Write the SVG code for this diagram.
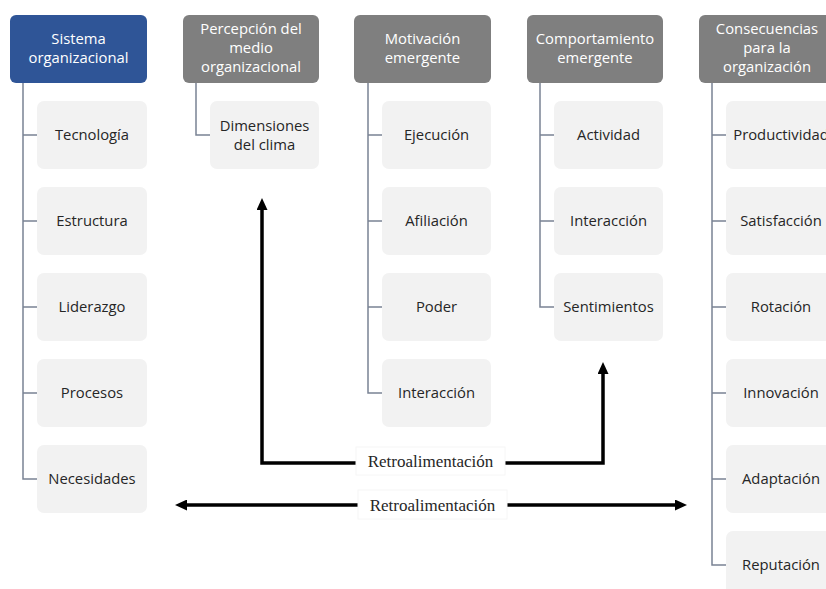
<svg xmlns="http://www.w3.org/2000/svg" width="826" height="589" viewBox="0 0 826 589">
<defs>
<style>
.hdr{fill:#7f7f7f}
.hdr.blue{fill:#2f5597}
.child{fill:#f2f2f2}
.ht{font-family:"Open Sans","Liberation Sans",sans-serif;font-size:14.8px;fill:#ffffff;text-anchor:middle}
.ct{font-family:"Open Sans","Liberation Sans",sans-serif;font-size:14.8px;fill:#262626;text-anchor:middle}
.tree{fill:none;stroke:#7a8394;stroke-width:1.5}
.fb{fill:none;stroke:#000;stroke-width:3.5;marker-start:url(#arr);marker-end:url(#arr)}
.lbl{fill:#fff;stroke:#f6f6f6;stroke-width:1}
.lt{font-family:"Liberation Serif","Times New Roman",serif;font-size:17px;fill:#262626;text-anchor:middle}
</style>
<marker id="arr" viewBox="0 0 12 11" refX="2" refY="5.5" markerWidth="12" markerHeight="11" markerUnits="userSpaceOnUse" orient="auto-start-reverse">
<path d="M0,0 L12,5.5 L0,11 z" fill="#000"/>
</marker>
</defs>
<rect width="826" height="589" fill="#fff"/>

<g id="connectors">
<path class="tree" d="M23,83 V479 H37 M23,135 H37 M23,221 H37 M23,307 H37 M23,393 H37"/>
<path class="tree" d="M196,83 V135 H210"/>
<path class="tree" d="M368,83 V393 H382 M368,135 H382 M368,221 H382 M368,307 H382"/>
<path class="tree" d="M540,83 V307 H554 M540,135 H554 M540,221 H554"/>
<path class="tree" d="M712,83 V565 H726 M712,135 H726 M712,221 H726 M712,307 H726 M712,393 H726 M712,479 H726"/>
<path class="fb" d="M262,208 V463 H603 V372"/>
<path class="fb" d="M185,505 H677"/>
</g>

<g id="h1"><rect class="hdr blue" x="10" y="15" width="137" height="68" rx="6"/><text class="ht" x="78.5" y="44">Sistema</text><text class="ht" x="78.5" y="63">organizacional</text></g>
<g id="h2"><rect class="hdr" x="183" y="15" width="136" height="68" rx="6"/><text class="ht" x="251" y="34">Percepción del</text><text class="ht" x="251" y="53">medio</text><text class="ht" x="251" y="72">organizacional</text></g>
<g id="h3"><rect class="hdr" x="354" y="15" width="137" height="68" rx="6"/><text class="ht" x="422.5" y="44">Motivación</text><text class="ht" x="422.5" y="63">emergente</text></g>
<g id="h4"><rect class="hdr" x="527" y="15" width="136" height="68" rx="6"/><text class="ht" x="595" y="44">Comportamiento</text><text class="ht" x="595" y="63">emergente</text></g>
<g id="h5"><rect class="hdr" x="699" y="15" width="136" height="68" rx="6"/><text class="ht" x="767" y="34">Consecuencias</text><text class="ht" x="767" y="53">para la</text><text class="ht" x="767" y="72">organización</text></g>

<g id="c1a"><rect class="child" x="37" y="101" width="110" height="68" rx="7"/><text class="ct" x="92" y="140">Tecnología</text></g>
<g id="c1b"><rect class="child" x="37" y="187" width="110" height="68" rx="7"/><text class="ct" x="92" y="226">Estructura</text></g>
<g id="c1c"><rect class="child" x="37" y="273" width="110" height="68" rx="7"/><text class="ct" x="92" y="312">Liderazgo</text></g>
<g id="c1d"><rect class="child" x="37" y="359" width="110" height="68" rx="7"/><text class="ct" x="92" y="398">Procesos</text></g>
<g id="c1e"><rect class="child" x="37" y="445" width="110" height="68" rx="7"/><text class="ct" x="92" y="484">Necesidades</text></g>

<g id="c2a"><rect class="child" x="210" y="101" width="109" height="68" rx="7"/><text class="ct" x="264.5" y="131">Dimensiones</text><text class="ct" x="264.5" y="150">del clima</text></g>

<g id="c3a"><rect class="child" x="382" y="101" width="109" height="68" rx="7"/><text class="ct" x="436.5" y="140">Ejecución</text></g>
<g id="c3b"><rect class="child" x="382" y="187" width="109" height="68" rx="7"/><text class="ct" x="436.5" y="226">Afiliación</text></g>
<g id="c3c"><rect class="child" x="382" y="273" width="109" height="68" rx="7"/><text class="ct" x="436.5" y="312">Poder</text></g>
<g id="c3d"><rect class="child" x="382" y="359" width="109" height="68" rx="7"/><text class="ct" x="436.5" y="398">Interacción</text></g>

<g id="c4a"><rect class="child" x="554" y="101" width="109" height="68" rx="7"/><text class="ct" x="608.5" y="140">Actividad</text></g>
<g id="c4b"><rect class="child" x="554" y="187" width="109" height="68" rx="7"/><text class="ct" x="608.5" y="226">Interacción</text></g>
<g id="c4c"><rect class="child" x="554" y="273" width="109" height="68" rx="7"/><text class="ct" x="608.5" y="312">Sentimientos</text></g>

<g id="c5a"><rect class="child" x="726" y="101" width="110" height="68" rx="7"/><text class="ct" x="781" y="140">Productividad</text></g>
<g id="c5b"><rect class="child" x="726" y="187" width="110" height="68" rx="7"/><text class="ct" x="781" y="226">Satisfacción</text></g>
<g id="c5c"><rect class="child" x="726" y="273" width="110" height="68" rx="7"/><text class="ct" x="781" y="312">Rotación</text></g>
<g id="c5d"><rect class="child" x="726" y="359" width="110" height="68" rx="7"/><text class="ct" x="781" y="398">Innovación</text></g>
<g id="c5e"><rect class="child" x="726" y="445" width="110" height="68" rx="7"/><text class="ct" x="781" y="484">Adaptación</text></g>
<g id="c5f"><rect class="child" x="726" y="531" width="110" height="68" rx="7"/><text class="ct" x="781" y="570">Reputación</text></g>

<g id="label1"><rect class="lbl" x="356" y="447" width="149" height="28"/><text class="lt" x="430.5" y="467">Retroalimentación</text></g>
<g id="label2"><rect class="lbl" x="358" y="490" width="149" height="29"/><text class="lt" x="432.5" y="511">Retroalimentación</text></g>
</svg>
